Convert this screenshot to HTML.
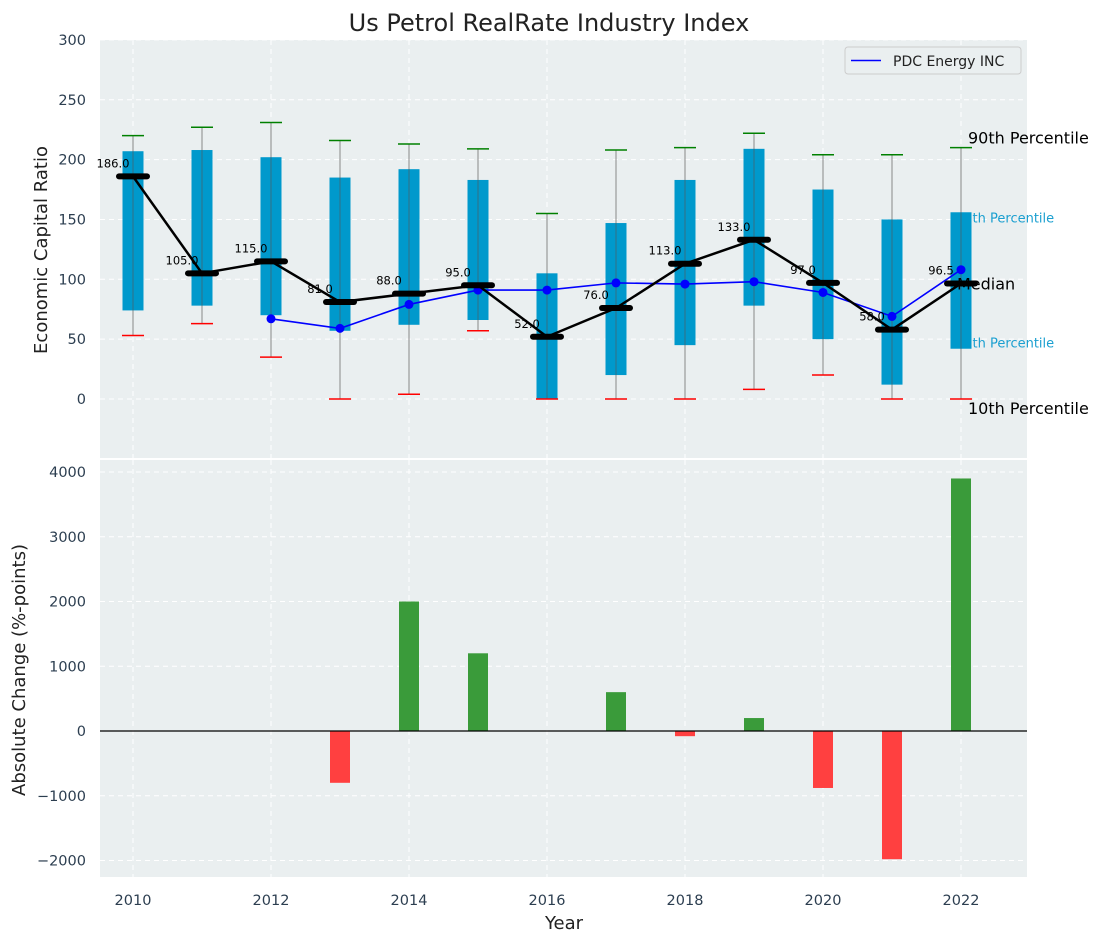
<!DOCTYPE html>
<html><head><meta charset="utf-8"><style>
body{margin:0;background:#fff;font-family:"Liberation Sans","DejaVu Sans",sans-serif}
svg text{font-family:"DejaVu Sans","Liberation Sans",sans-serif}
</style></head><body>
<svg id="c" width="1103" height="942" xmlns="http://www.w3.org/2000/svg"></svg>
<script>
const years=[2010,2011,2012,2013,2014,2015,2016,2017,2018,2019,2020,2021,2022];
const q3=[207,208,202,185,192,183,105,147,183,209,175,150,156];
const q1=[74,78,70,57,62,66,0,20,45,78,50,12,42];
const p90=[220,227,231,216,213,209,155,208,210,222,204,204,210];
const p10=[53,63,35,0,4,57,0,0,0,8,20,0,0];
const medians=[186,105,115,81,88,95,52,76,113,133,97,58,96.5];
const pdcYears=[2012,2013,2014,2015,2016,2017,2018,2019,2020,2021,2022];
const pdcValues=[67,59,79,91,91,97,96,98,89,69,108];
const changes=[0,0,0,-800,2000,1200,0,600,-80,200,-880,-1980,3900];
const topTicks=[0,50,100,150,200,250,300];
const botTicks=[-2000,-1000,0,1000,2000,3000,4000];
const xTicks=[2010,2012,2014,2016,2018,2020,2022];

const NS="http://www.w3.org/2000/svg",svg=document.getElementById('c');
function el(t,a,p){const e=document.createElementNS(NS,t);for(const k in a)e.setAttribute(k,a[k]);(p||svg).appendChild(e);return e;}
const X=v=>133+(v-2010)*69;
const Y1=v=>399-v*1.197;
const Y2=v=>731-v*0.06475;
const L=100,R=1027;

let e=el('rect',{x:L,y:40,width:R-L,height:418,fill:'#eaeff0'});

e=el('rect',{x:L,y:460,width:R-L,height:417,fill:'#eaeff0'});


xTicks.forEach(t=>{
 el('line',{x1:X(t),x2:X(t),y1:40,y2:458,stroke:'#fff','stroke-dasharray':'5,4','stroke-width':1});
 el('line',{x1:X(t),x2:X(t),y1:460,y2:877,stroke:'#fff','stroke-dasharray':'5,4','stroke-width':1});
 e=el('text',{x:X(t),y:905,'text-anchor':'middle','font-size':14.5,fill:'#2c3e50'});e.textContent=t;
 
});
topTicks.forEach(t=>{
 el('line',{x1:L,x2:R,y1:Y1(t),y2:Y1(t),stroke:'#fff','stroke-dasharray':'5,4'});
 e=el('text',{x:86,y:Y1(t)+5,'text-anchor':'end','font-size':14.5,fill:'#2c3e50'});e.textContent=t;
 
});
botTicks.forEach(t=>{
 el('line',{x1:L,x2:R,y1:Y2(t),y2:Y2(t),stroke:'#fff','stroke-dasharray':'5,4'});
 e=el('text',{x:86,y:Y2(t)+5,'text-anchor':'end','font-size':14.5,fill:'#2c3e50'});e.textContent=(t<0?'\u2212'+(-t):t);
 
});

const last=years.length-1,xl=X(years[last]);
[['75th Percentile',q3[last],10,'label-75th'],['25th Percentile',q1[last],-1,'label-25th']].forEach(a=>{
 e=el('text',{x:xl-5,y:Y1(a[1])+a[2],'font-size':13,fill:'#1a9fd0'});e.textContent=a[0];
 
});

years.forEach((y,i)=>{
 const x=X(y);
 e=el('line',{x1:x,x2:x,y1:Y1(p10[i]),y2:Y1(p90[i]),stroke:'#888','stroke-width':1});
 
 e=el('rect',{x:x-10.5,y:Y1(q3[i]),width:21,height:Y1(q1[i])-Y1(q3[i]),fill:'#0099cc'});
 
 el('line',{x1:x,x2:x,y1:Y1(q1[i]),y2:Y1(q3[i]),stroke:'#555','stroke-width':1,opacity:0.6});
 e=el('line',{x1:x-11,x2:x+11,y1:Y1(p90[i]),y2:Y1(p90[i]),stroke:'green','stroke-width':1.5});
 
 e=el('line',{x1:x-11,x2:x+11,y1:Y1(p10[i]),y2:Y1(p10[i]),stroke:'red','stroke-width':1.5});
 
});
e=el('polyline',{points:pdcYears.map((y,i)=>X(y)+','+Y1(pdcValues[i])).join(' '),fill:'none',stroke:'blue','stroke-width':1.6});

pdcYears.forEach((y,i)=>{e=el('circle',{cx:X(y),cy:Y1(pdcValues[i]),r:4.5,fill:'blue'});
 });
e=el('polyline',{points:years.map((y,i)=>X(y)+','+Y1(medians[i])).join(' '),fill:'none',stroke:'#000','stroke-width':2.5});

years.forEach((y,i)=>{
 e=el('line',{x1:X(y)-14,x2:X(y)+14,y1:Y1(medians[i]),y2:Y1(medians[i]),stroke:'#000','stroke-width':6,'stroke-linecap':'round'});
 
 e=el('text',{x:X(y)-20,y:Y1(medians[i])-9,'text-anchor':'middle','font-size':11.5,fill:'#000'});
 e.textContent=medians[i].toFixed(1);
 
});
e=el('text',{x:xl+7,y:Y1(p90[last])-4,'font-size':16,fill:'#000'});e.textContent='90th Percentile';

e=el('text',{x:xl-4,y:Y1(medians[last])+6,'font-size':16,fill:'#000'});e.textContent='Median';

e=el('text',{x:xl+7,y:Y1(p10[last])+15,'font-size':16,fill:'#000'});e.textContent='10th Percentile';


e=el('g',{});
el('rect',{x:845,y:47,width:176,height:27,fill:'#eaeff0',stroke:'#ccc',rx:3},e);
el('line',{x1:851,x2:881,y1:60.5,y2:60.5,stroke:'blue','stroke-width':1.6},e);
let t=el('text',{x:893,y:66,'font-size':14,fill:'#222'},e);t.textContent='PDC Energy INC';

years.forEach((y,i)=>{
 const v=changes[i];if(v===0)return;
 e=el('rect',{x:X(y)-10,y:Math.min(Y2(v),Y2(0)),width:20,height:Math.abs(Y2(v)-Y2(0)),fill:v>0?'#3a9b3a':'#ff4040'});
 
});
el('line',{x1:L,x2:R,y1:Y2(0),y2:Y2(0),stroke:'#000','stroke-width':1.2});

e=el('text',{x:549,y:31,'text-anchor':'middle','font-size':24,fill:'#222'});e.textContent='Us Petrol RealRate Industry Index';

e=el('text',{x:0,y:0,'text-anchor':'middle','font-size':18,fill:'#222',transform:'translate(47,250) rotate(-90)'});e.textContent='Economic Capital Ratio';

e=el('text',{x:0,y:0,'text-anchor':'middle','font-size':18,fill:'#222',transform:'translate(25,670) rotate(-90)'});e.textContent='Absolute Change (%-points)';

e=el('text',{x:564,y:929,'text-anchor':'middle','font-size':18,fill:'#222'});e.textContent='Year';

</script>
</body></html>
